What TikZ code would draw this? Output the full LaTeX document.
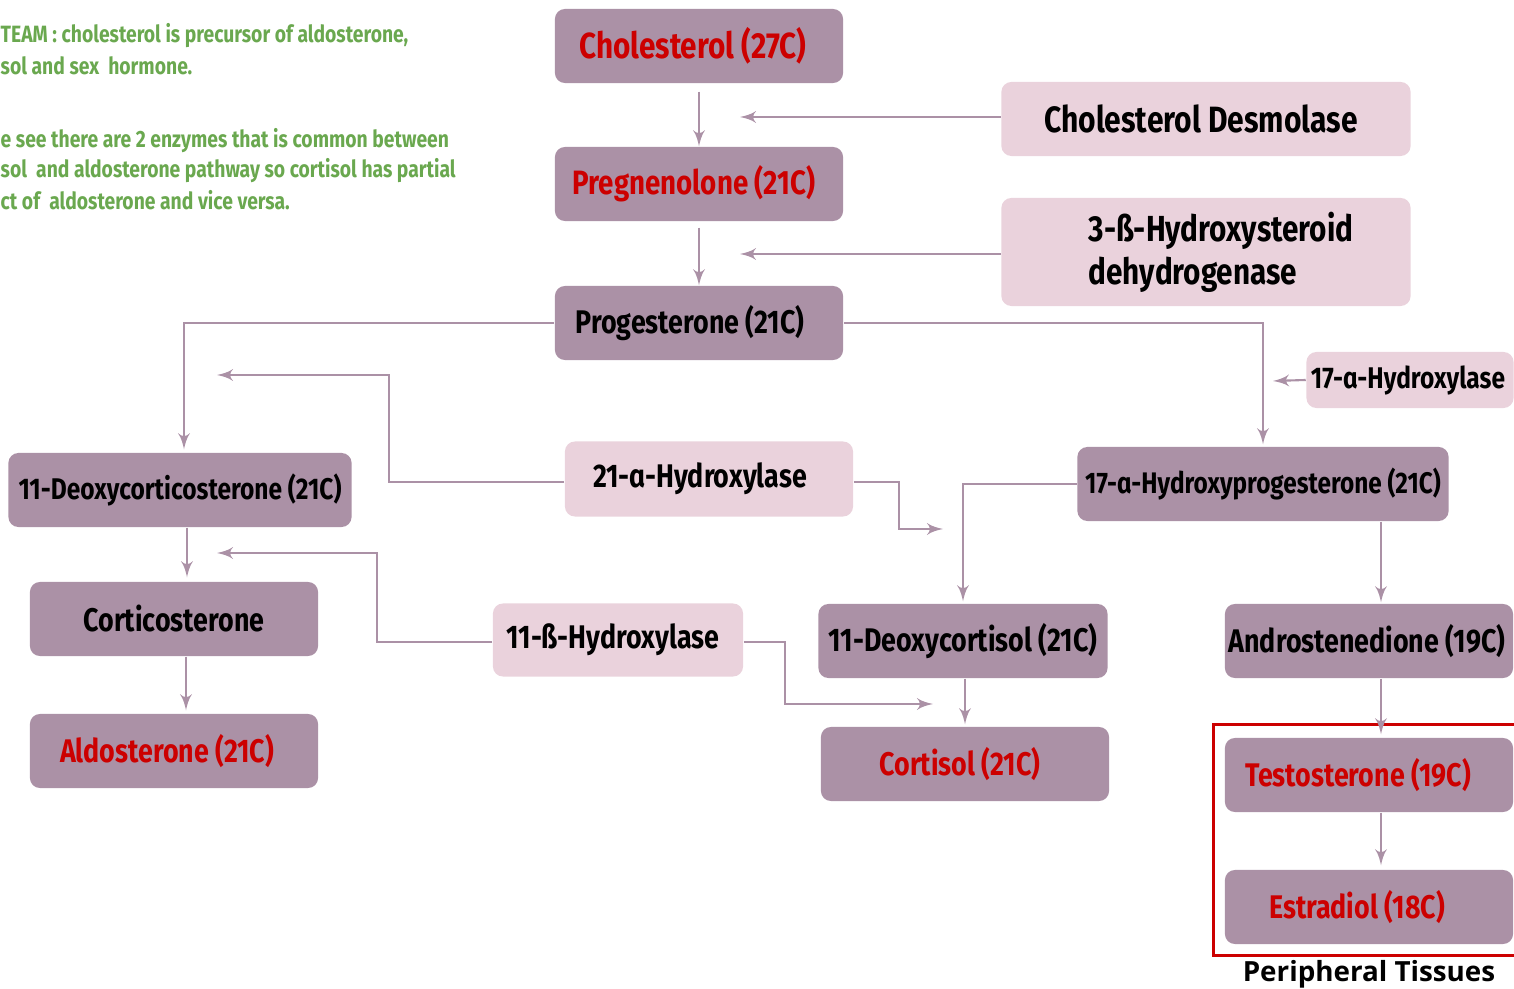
\documentclass[tikz,border=0pt]{standalone}
\usepackage{fontspec}
\setmainfont{Fira Sans}[FakeStretch=0.82]
\newfontfamily\ptfont{Open Sans}
\usetikzlibrary{arrows,calc,positioning}
\definecolor{boxdark}{HTML}{AB91A6}
\definecolor{boxlight}{HTML}{EAD2DC}
\definecolor{linec}{HTML}{AB91A6}
\definecolor{hred}{HTML}{CC0000}
\definecolor{hgreen}{HTML}{6AA84F}

\begin{document}
\begin{tikzpicture}[auto,>=latex',x=0.01cm,y=-0.01cm]
	\tikzstyle{block} = [rectangle, rounded corners=0.1cm, fill=boxdark, inner sep=0pt, minimum height=0.74cm, minimum width=2.88cm, font=\bfseries\fontsize{9.3}{11}\selectfont]
	\tikzstyle{enzyme} = [rectangle, rounded corners=0.1cm, fill=boxlight, inner sep=0pt, minimum height=0.74cm, font=\bfseries\fontsize{9.3}{11}\selectfont]
	\tikzstyle{note} = [anchor=west, inner sep=0pt, text=hgreen, font=\bfseries\fontsize{6.7}{8}\selectfont]
	\tikzstyle{line} = [draw=linec, line width=0.6pt]
	
	\clip (0,0) rectangle (1514,989);
	
	\node [note] (note1) at (0,36) {TEAM : cholesterol is precursor of aldosterone,};
	\node [note] (note2) at (0,66) {sol and sex\ \ hormone.};
	\node [note] (note3) at (0,141) {e see there are 2 enzymes that is common between};
	\node [note] (note4) at (0,171) {sol\ \ and aldosterone pathway so cortisol has partial};
	\node [note] (note5) at (0,200) {ct of\ \ aldosterone and vice versa.};
	
	\node [block, font=\bfseries\fontsize{10.3}{12}\selectfont] (chol) at (699,46) {\textcolor{hred}{Cholesterol (27C)}\hspace*{0.12cm}};
	\node [block, font=\bfseries\fontsize{9.6}{11}\selectfont] (preg) at (699,184) {\textcolor{hred}{Pregnenolone (21C)}\hspace*{0.1cm}};
	\node [block] (prog) at (699,323) {Progesterone (21C)\hspace*{0.18cm}};
	
	\node [enzyme, minimum width=4.09cm, font=\bfseries\fontsize{10.4}{12}\selectfont] (desm) at (1206,119) {Cholesterol Desmolase\hspace*{0.1cm}};
	\node [enzyme, minimum width=4.09cm, minimum height=1.08cm, align=left, font=\bfseries\fontsize{10.3}{12.3}\selectfont] (hsd) at (1206,252) {\hspace*{0.3cm}3-ß-Hydroxysteroid\\\hspace*{0.3cm}dehydrogenase};
	\node [enzyme, minimum width=2.07cm, minimum height=0.56cm, font=\bfseries\fontsize{8.5}{10}\selectfont] (hyd17) at (1410,380) {\hspace*{-0.04cm}17-ɑ-Hydroxylase};
	
	\node [block, minimum width=3.71cm, font=\bfseries\fontsize{8.45}{10}\selectfont] (ohp) at (1263,484) {17-ɑ-Hydroxyprogesterone (21C)};
	\node [block, minimum width=3.43cm, font=\bfseries\fontsize{8.5}{10}\selectfont] (doc) at (180,490) {11-Deoxycorticosterone (21C)};
	\node [enzyme, minimum width=2.88cm, minimum height=0.75cm] (h21) at (709,479) {21-ɑ-Hydroxylase\hspace*{0.18cm}};
	
	\node [block] (cortico) at (174,619) {Corticosterone};
	\node [enzyme, minimum width=2.50cm, minimum height=0.73cm] (h11) at (618,640) {11-ß-Hydroxylase\hspace*{0.1cm}};
	\node [block, minimum width=2.89cm] (dcl) at (963,641) {11-Deoxycortisol (21C)};
	\node [block] (andro) at (1369,641) {Androstenedione (19C)\hspace*{0.04cm}};
	
	\node [block] (aldo) at (174,751) {\textcolor{hred}{Aldosterone (21C)}\hspace*{0.14cm}};
	\node [block] (cortisol) at (965,764) {\textcolor{hred}{Cortisol (21C)}\hspace*{0.1cm}};
	\node [block] (testo) at (1369,775) {\textcolor{hred}{Testosterone (19C)}\hspace*{0.22cm}};
	\node [block] (estra) at (1369,907) {\textcolor{hred}{Estradiol (18C)}\hspace*{0.24cm}};
	
	\draw [hred, line width=0.85pt] (1213,725) rectangle (1530,956);
	\node [font=\ptfont\bfseries\fontsize{7.9}{10}\selectfont, inner sep=0pt] (peri) at (1369,974) {Peripheral Tissues};
	
	% helper coordinates
	\coordinate (colL) at (187,0);
	\coordinate (colR) at (1381,0);
	\coordinate (d1) at (740,117);
	\coordinate (d2) at (740,254);
	\coordinate (d3) at (1273,381);
	\coordinate (c21a) at (217,375);
	\coordinate (c21b) at (943,529);
	\coordinate (c11a) at (217,553);
	\coordinate (c11b) at (933,704);
	
	\draw [line, ->, shorten <=0.08cm] (chol) -- (preg);
	\draw [line, ->, shorten <=0.06cm] (preg) -- (prog);
	\draw [line, ->] (desm.west |- d1) -- (d1);
	\draw [line, ->] (hsd.west |- d2) -- (d2);
	
	\draw [line, ->, shorten >=0.03cm] (prog.west) -| (doc.north -| 184,0);
	\draw [line, ->, shorten >=0.02cm] (prog.east) -| (ohp.north);
	\draw [line, ->] (hyd17.west) -- (d3);
	
	\draw [line, ->] (h21.west |- 0,482) -- ++(-175,0) |- (c21a);
	\draw [line, ->] (h21.east |- 0,482) -- ++(45,0) |- (c21b);
	\draw [line, ->, shorten >=0.02cm] (ohp.west) -| (dcl.north);
	\draw [line, ->, shorten >=0.01cm] (ohp.south -| colR) -- (andro.north -| colR);
	
	\draw [line, ->, shorten >=0.04cm] (doc.south -| colL) -- (cortico.north -| colL);
	\draw [line, ->, shorten >=0.03cm] (cortico.south -| 186,0) -- (aldo.north -| 186,0);
	\draw [line, ->] (h11.west |- 0,642) -- ++(-115,0) |- (c11a);
	\draw [line, ->] (h11.east |- 0,642) -- ++(41,0) |- (c11b);
	\draw [line, ->, shorten >=0.02cm] (dcl.south -| cortisol) -- (cortisol.north);
	
	\draw [line, ->, shorten >=0.03cm] (andro.south -| colR) -- (testo.north -| colR);
	\draw [line, ->, shorten >=0.04cm] (testo.south -| colR) -- (estra.north -| colR);
	
\end{tikzpicture}
\end{document}
